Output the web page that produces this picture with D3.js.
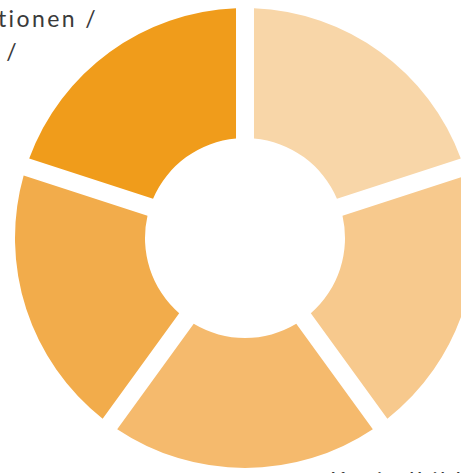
<!DOCTYPE html>
<html>
<head>
<meta charset="utf-8">
<script src="https://cdn.jsdelivr.net/npm/d3@7"></script>
<style>
  html, body { margin: 0; padding: 0; background: #fff; overflow: hidden; }
  text { font-family: "Lato", "DejaVu Sans", sans-serif; }
</style>
</head>
<body>
<div id="donut"></div>
<script>
// segments clockwise from 12 o'clock
var segments = ["A", "B", "C", "D", "E"];
var values = [1, 1, 1, 1, 1];
var colors = ["#F8D6A8", "#F7C98D", "#F5BA6D", "#F2AC4B", "#F09C1B"];
var labelTop = ["Institutionen /", "Partner /"];
var labelBottom = "Kapitalbildung";

function init() {
    var w = 461;
    var h = 473;

    var cx = 245;
    var cy = 238;
    var outerRadius = 230;
    var innerRadius = 100;

    var arc = d3.arc()
        .innerRadius(innerRadius)
        .outerRadius(outerRadius)
        .padRadius(100);

    var pie = d3.pie()
        .sort(null)
        .padAngle(0.18);

    var color = d3.scaleOrdinal()
        .domain(segments)
        .range(colors);

    var svg = d3.select("#donut")
        .append("svg")
        .attr("width", w)
        .attr("height", h);

    var arcs = svg.selectAll("g.arc")
        .data(pie(values))
        .enter()
        .append("g")
        .attr("class", "arc")
        .attr("transform", "translate(" + cx + ", " + cy + ")");

    arcs.append("path")
        .attr("fill", function(d, i) {
            return color(segments[i]);
        })
        .attr("d", arc);

    // label fragments, partly outside the frame as in the original
    svg.selectAll("text.top")
        .data(labelTop)
        .enter()
        .append("text")
        .attr("class", "top")
        .attr("x", function(d, i) { return i == 0 ? 98 : 19; })
        .attr("y", function(d, i) { return 27 + i * 33; })
        .attr("text-anchor", "end")
        .attr("font-size", 23)
        .attr("letter-spacing", 2.4)
        .attr("fill", "#3a3a3a")
        .text(function(d) { return d; });

    svg.append("text")
        .attr("x", 330)
        .attr("y", 489)
        .attr("font-size", 23)
        .attr("letter-spacing", 2.4)
        .attr("fill", "#3a3a3a")
        .text(labelBottom);
}

window.onload = init;
</script>
</body>
</html>
